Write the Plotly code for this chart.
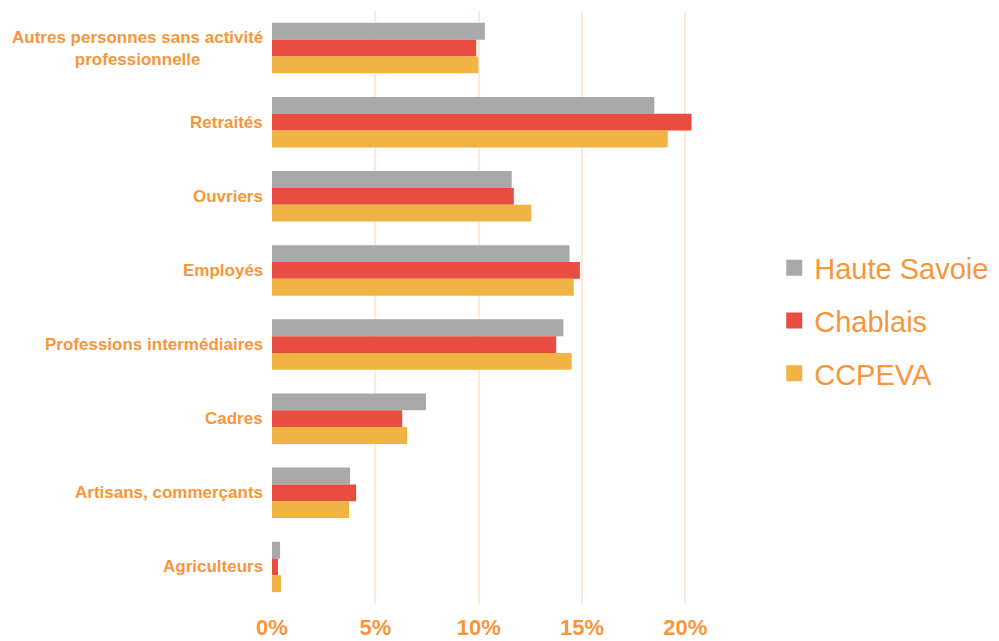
import plotly.graph_objects as go

categories = ["Autres personnes sans activité<br>professionnelle", "Retraités", "Ouvriers", "Employés",
              "Professions intermédiaires", "Cadres", "Artisans, commerçants", "Agriculteurs"]
haute_savoie = [10.3, 18.5, 11.6, 14.4, 14.1, 7.45, 3.78, 0.39]
chablais = [9.88, 20.3, 11.7, 14.9, 13.75, 6.3, 4.07, 0.29]
ccpeva = [9.98, 19.15, 12.55, 14.6, 14.5, 6.54, 3.73, 0.44]
series_names = ["Haute Savoie", "Chablais", "CCPEVA"]
x_ticks = [0, 5, 10, 15, 20]
x_tick_labels = ["0%", "5%", "10%", "15%", "20%"]

colors = ["#a9a9a9", "#e94c40", "#efb443"]
orange = "#f7963a"
FONT = "Arial, 'Liberation Sans', sans-serif"

fig = go.Figure()
for i, (name, vals) in enumerate(zip(series_names, [haute_savoie, chablais, ccpeva])):
    fig.add_trace(go.Bar(
        y=categories, x=vals, name=name, orientation="h",
        marker=dict(color=colors[i], line=dict(width=0)),
        legendgroup=name, showlegend=False,
    ))
    # legend-only entry with a larger square swatch
    fig.add_trace(go.Scatter(
        x=[None], y=[None], mode="markers", name=name, legendgroup=name,
        marker=dict(symbol="square", size=16, color=colors[i]),
        hoverinfo="skip",
    ))

for c in categories:
    fig.add_annotation(
        x=-0.015, xref="paper", y=c, yref="y", text=c, showarrow=False,
        xanchor="right", yanchor="middle", align="center",
        font=dict(family=FONT, size=17, color=orange, weight="bold"),
    )

fig.update_layout(
    width=999, height=641,
    margin=dict(l=264, r=301, t=3, b=45, autoexpand=False),
    paper_bgcolor="white", plot_bgcolor="white",
    barmode="group", bargap=0.32, bargroupgap=0,
    font=dict(family=FONT, color=orange),
    xaxis=dict(
        range=[0, 21], tickvals=x_ticks, ticktext=x_tick_labels,
        showgrid=True, gridcolor="#fdebd8", gridwidth=2,
        zeroline=False, showline=False, ticks="",
        tickfont=dict(family=FONT, size=22, color=orange, weight="bold"),
        ticklabelstandoff=8,
    ),
    yaxis=dict(
        autorange="reversed", showticklabels=False, showgrid=False,
        zeroline=False, showline=False, ticks="",
    ),
    legend=dict(
        xref="container", yref="container", x=0.767, y=0.5117, xanchor="left", yanchor="middle",
        font=dict(family=FONT, size=29, color=orange), traceorder="grouped", tracegroupgap=12,
        itemsizing="trace", itemwidth=30, bgcolor="rgba(0,0,0,0)",
    ),
)

fig.write_html("out.html")
